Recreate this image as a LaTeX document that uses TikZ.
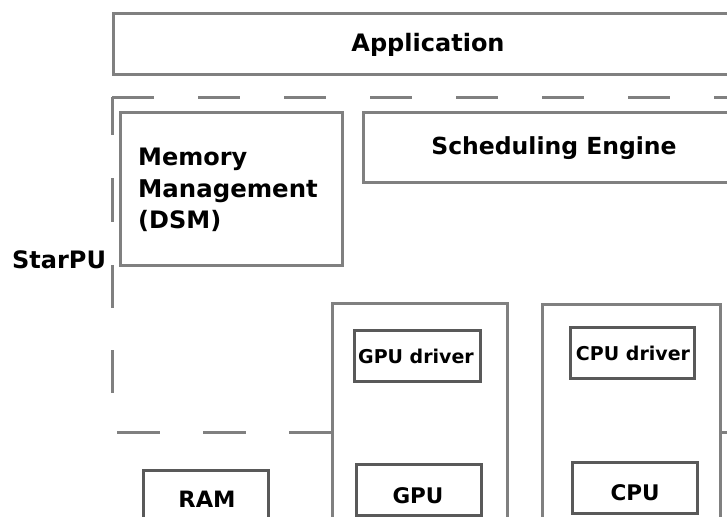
\documentclass[tikz,border=0pt]{standalone}
\usepackage{fontspec}
\setmainfont{DejaVu Sans}
\begin{document}
\begin{tikzpicture}[x=1pt,y=-1pt,
  outer/.style={draw=black!50, line width=3pt, rectangle, inner sep=0pt, anchor=north west},
  inner/.style={draw=black!65, line width=2.6pt, rectangle, inner sep=0pt, anchor=north west},
  lbl/.style={font=\bfseries\fontsize{#1}{#1}\selectfont, inner sep=0pt},
  dashline/.style={draw=black!50, line width=3pt}]
\useasboundingbox (0,0) rectangle (727,516);
\fill[white] (0,0) rectangle (727,516);
\clip (0,0) rectangle (727,516);
% Application
\node[outer, minimum width=628pt, minimum height=61pt] (app) at (112,12) {};
\node[lbl=24, anchor=base] (apptxt) at (428,52) {Application};
% StarPU dashed outline
\draw[dashline, dash pattern=on 38pt off 43pt on 44pt off 43pt on 43pt off 42pt on 43pt off 100pt] (112,97) -- (112,432);
\draw[dashline, dash pattern=on 42pt off 44pt] (112,98) -- (740,98);
\draw[dashline, dash pattern=on 43pt off 43pt] (117,432) -- (331,432);
\draw[dashline] (720,432) -- (740,432);
\node[lbl=24, anchor=base west] (starpu) at (12,268) {StarPU};
% Memory management
\node[outer, minimum width=222pt, minimum height=153pt] (mem) at (119,111) {};
\node[lbl=24, anchor=base west] (mem1) at (138,165) {Memory};
\node[lbl=24.4, anchor=base west] (mem2) at (138,197) {Management};
\node[lbl=24, anchor=base west] (mem3) at (138,228) {(DSM)};
% Scheduling engine
\node[outer, minimum width=384pt, minimum height=70pt] (sched) at (362,111) {};
\node[lbl=23.5, anchor=base] (schedtxt) at (554,154) {Scheduling Engine};
% GPU column
\node[outer, minimum width=175pt, minimum height=260pt] (gpucol) at (331,302) {};
\node[inner, minimum width=126pt, minimum height=51pt] (gpudrv) at (353,329) {};
\node[lbl=19, anchor=base] (gpudrvtxt) at (416,363) {GPU driver};
\node[inner, minimum width=125pt, minimum height=51pt] (gpu) at (355,463) {};
\node[lbl=21.5, anchor=base] (gputxt) at (418,503) {GPU};
% CPU column
\node[outer, minimum width=178pt, minimum height=260pt] (cpucol) at (541,303) {};
\node[inner, minimum width=124pt, minimum height=51pt] (cpudrv) at (569,326) {};
\node[lbl=19, anchor=base] (cpudrvtxt) at (633,360) {CPU driver};
\node[inner, minimum width=125pt, minimum height=51pt] (cpu) at (571,461) {};
\node[lbl=21.5, anchor=base] (cputxt) at (635,500) {CPU};
% RAM
\node[inner, minimum width=125pt, minimum height=80pt] (ram) at (142,469) {};
\node[lbl=22.5, anchor=base] (ramtxt) at (207,507) {RAM};
\end{tikzpicture}
\end{document}
